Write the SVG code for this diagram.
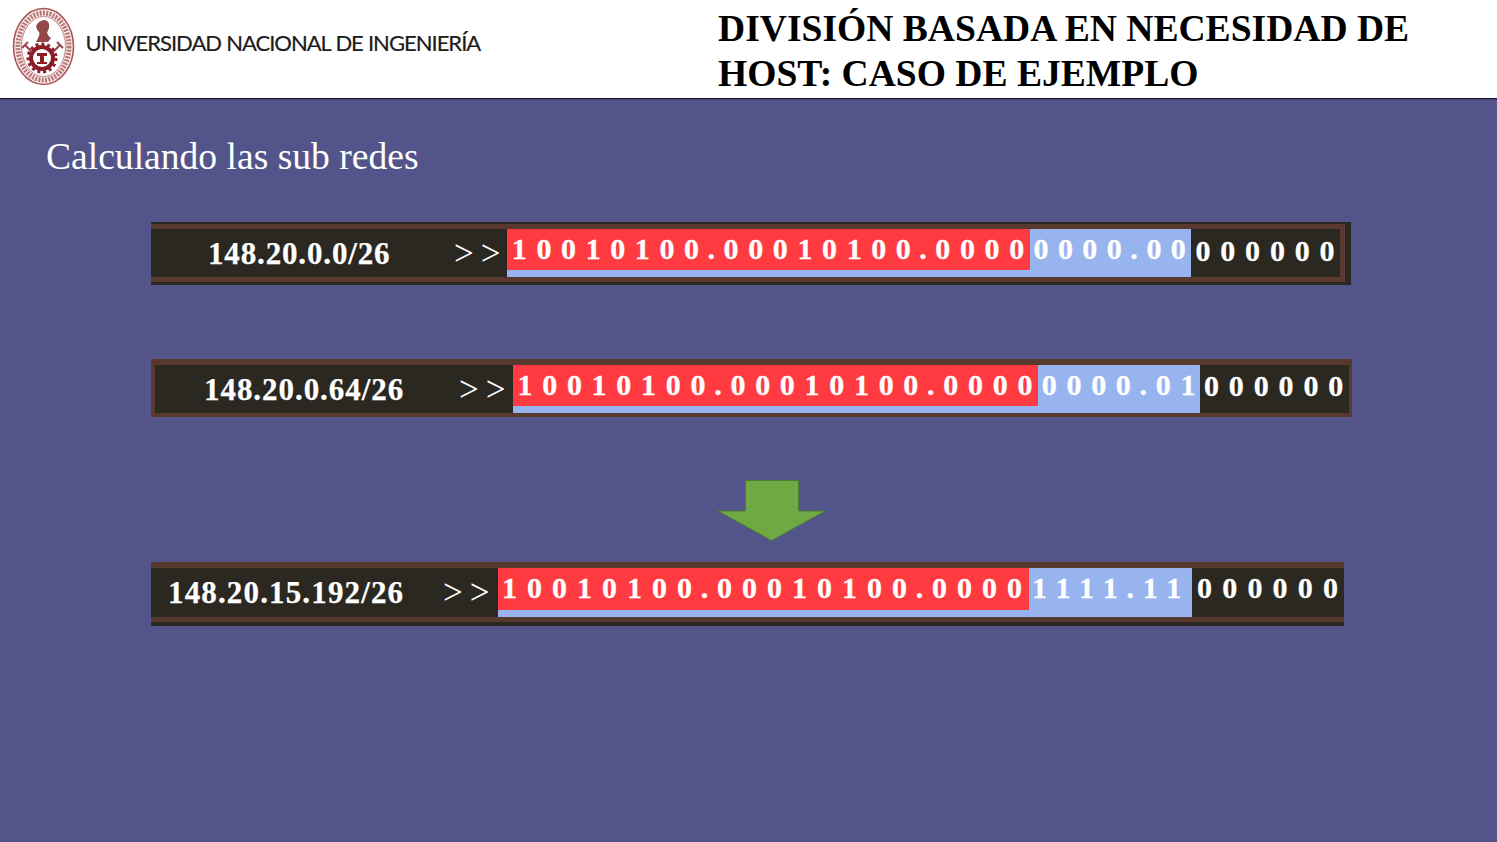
<svg xmlns="http://www.w3.org/2000/svg" width="1497" height="842" viewBox="0 0 1497 842">
<style>
.title{font:bold 37.6px "Liberation Serif",serif;fill:#000}
.sub{font:37.6px "Liberation Serif",serif;fill:#fff}
.uni{font:22px Lato,sans-serif;fill:#1c1c1c;stroke:#1c1c1c;stroke-width:.2px;letter-spacing:-1px;word-spacing:.5px}
.lbl{font:bold 31px "Liberation Serif",serif;fill:#fff;stroke:#fff;stroke-width:.25px;letter-spacing:.85px}
.gt{font:35px "Liberation Serif",serif;fill:#fff;letter-spacing:7px}
.bin{font:bold 30px "Liberation Serif",serif;fill:#fff;stroke:#fff;stroke-width:.3px}
.dark{fill:#2a2820}.brown{fill:#57392e}.red{fill:#ff3b41}.blue{fill:#98b4ef}
</style>
<defs><filter id="soft" x="-10%" y="-10%" width="120%" height="120%"><feGaussianBlur stdDeviation="0.6"/></filter></defs>
<rect width="1497" height="842" fill="#53548a"/>
<g id="header">
<rect width="1497" height="98" fill="#fff"/>
<rect y="98" width="1497" height="1.2" fill="#14142a"/>
<g id="logo" filter="url(#soft)">
<ellipse cx="43.500" cy="46.500" rx="30" ry="38" fill="#f8ecea" stroke="#a9565a" stroke-width="1.6"/>
<ellipse cx="43.500" cy="46.500" rx="25.500" ry="33.500" fill="none" stroke="#b9777a" stroke-width="5" stroke-dasharray="2 1.3"/>
<ellipse cx="43.500" cy="46.500" rx="22" ry="30" fill="#fff" stroke="#b56a6c" stroke-width=".8"/>
<path d="M36 26q3-6 9-6q5 1 4 8l-2 5q1 3 4 5l-3 4h-12l3-6q1-3 0-4q-3-3-3-6z" fill="#93474a"/>
<circle cx="42" cy="58" r="11" fill="none" stroke="#8b1f28" stroke-width="4"/>
<circle cx="42" cy="58" r="14" fill="none" stroke="#8b1f28" stroke-width="3" stroke-dasharray="3 2.9"/>
<path d="M37 53h10v3h-3v6h3v2h-10v-2h3v-6h-3z" fill="#8b1f28"/>
<path d="M25 45l7 7M60 45l-7 7M22 48l6-6M63 48l-6-6" stroke="#93474a" stroke-width="2" fill="none"/>
</g>
<text class="uni" x="85.500" y="51">UNIVERSIDAD NACIONAL DE INGENIERÍA</text>
<text class="title" x="718" y="41">DIVISIÓN BASADA EN NECESIDAD DE</text>
<text class="title" x="718" y="86">HOST: CASO DE EJEMPLO</text>
</g>
<text id="subtitle" class="sub" x="46" y="169">Calculando las sub redes</text>
<g id="row1">
<rect class="dark" x="151" y="222" width="1200" height="63"/>
<rect class="brown" x="151" y="224" width="1194" height="5"/>
<rect class="brown" x="151" y="277" width="1194" height="5"/>
<rect class="brown" x="1340" y="224" width="5" height="58"/>
<rect class="blue" x="507" y="229" width="684" height="48"/>
<rect class="red" x="507" y="229" width="523" height="41"/>
<text class="lbl" x="208" y="264">148.20.0.0/26</text>
<text class="gt" x="454" y="264.500">&gt;&gt;</text>
<text class="bin" x="511.800" y="259" style="letter-spacing:9.6px" dx="0 0 0 0 0 0 0 0 -1.1 -1.1 0 0 0 0 0 0 0 -1.1 -1.1">10010100.00010100.0000</text>
<text class="bin" x="1033.500" y="259" style="letter-spacing:9.4px" dx="0 0 0 0 -.8 -.8">0000.00</text>
<text class="bin" x="1195.500" y="260.500" style="letter-spacing:9.8px">000000</text>
</g>
<g id="row2">
<rect class="brown" x="151" y="359" width="1201" height="58"/>
<rect class="dark" x="155" y="365" width="1194" height="48"/>
<rect class="blue" x="513" y="365" width="687" height="48"/>
<rect class="red" x="513" y="365" width="525" height="41"/>
<text class="lbl" x="204" y="399.500" style="letter-spacing:.95px">148.20.0.64/26</text>
<text class="gt" x="459" y="400.500">&gt;&gt;</text>
<text class="bin" x="517.500" y="395" style="letter-spacing:9.7px" dx="0 0 0 0 0 0 0 0 -.95 -.95 0 0 0 0 0 0 0 -.95 -.95">10010100.00010100.0000</text>
<text class="bin" x="1041.800" y="395" style="letter-spacing:9.67px" dx="0 0 0 0 -.9 -.9">0000.01</text>
<text class="bin" x="1204" y="396" style="letter-spacing:9.87px">000000</text>
</g>
<g id="arrow">
<path d="M745.500 480.500H798.500V511H825L771.500 540.500L718 511H745.500Z" fill="#6fa944" stroke="#4f7f30" stroke-width="1"/>
</g>
<g id="row3">
<rect class="dark" x="151" y="562" width="1193" height="64"/>
<rect class="brown" x="151" y="562" width="1193" height="6"/>
<rect class="brown" x="151" y="617" width="1193" height="5"/>
<rect class="blue" x="498" y="568" width="694" height="49"/>
<rect class="red" x="498" y="568" width="531" height="42"/>
<text class="lbl" x="168" y="603" style="letter-spacing:1.15px">148.20.15.192/26</text>
<text class="gt" x="443" y="603.500">&gt;&gt;</text>
<text class="bin" x="502" y="598" style="letter-spacing:10px" dx="0 0 0 0 0 0 0 0 -1.25 -1.25 0 0 0 0 0 0 0 -1.25 -1.25">10010100.00010100.0000</text>
<text class="bin" x="1032" y="598" style="letter-spacing:10.2px" dx="0 0 0 0 -1.4 -1.4">1111.11</text>
<text class="bin" x="1197" y="598" style="letter-spacing:10.2px">000000</text>
</g>
</svg>
